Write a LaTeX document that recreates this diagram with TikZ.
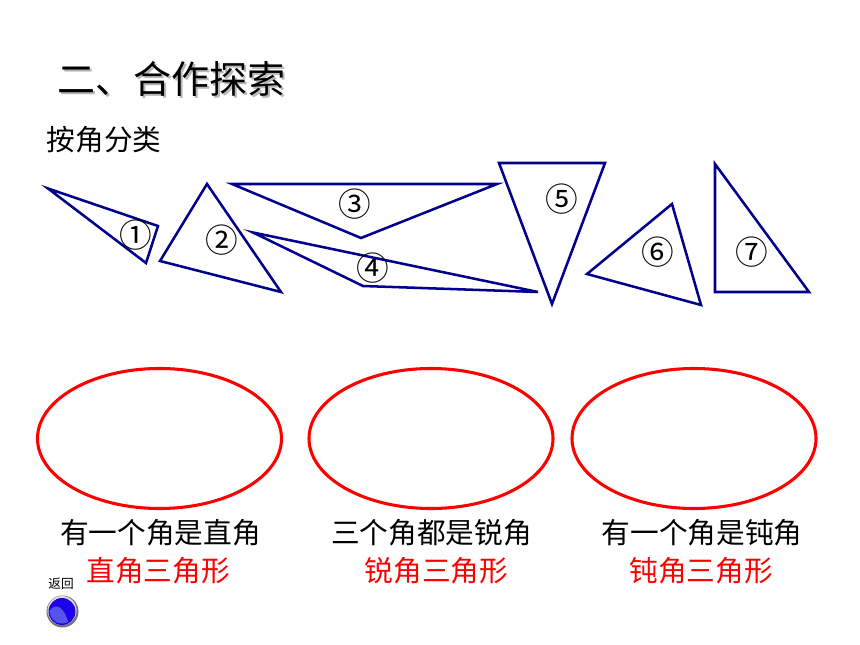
\documentclass[tikz,border=0pt]{standalone}
\usepackage{fontspec}
\setmainfont{DejaVu Sans}
\newfontfamily\cjk{Noto Sans CJK SC}
\definecolor{triblue}{RGB}{0,0,140}
\definecolor{ovalred}{RGB}{255,0,0}
\definecolor{btnblue}{RGB}{30,0,235}
\definecolor{btnhigh}{RGB}{85,85,235}
\tikzset{
 tri/.style={draw=triblue,line width=1.9pt,line join=miter},
 oval/.style={draw=ovalred,line width=2.3pt},
 num/.style={font=\cjk\fontsize{24.5}{24.5}\selectfont,inner sep=0pt,text=black},
 title/.style={font=\cjk\fontsize{28.5}{30}\selectfont,inner sep=0pt,anchor=west},
 body/.style={font=\cjk\fontsize{21.5}{24}\selectfont,inner sep=0pt},
 redt/.style={body,text=ovalred},
}
\begin{document}
\begin{tikzpicture}[x=0.75pt,y=-0.75pt]
\useasboundingbox (0,0) rectangle (860,645);
\fill[white] (0,0) rectangle (860,645);
% title
\node[title,text=black!28] (titleshadow) at (59,81) {二、合作探索};
\node[title] (title) at (57,79) {二、合作探索};
\node[body,anchor=west] (sub) at (46.5,139.5) {按角分类};
% triangles
\draw[tri] (48,188.5) -- (158,226) -- (146,263) -- cycle;
\draw[tri] (207,184) -- (281,292) -- (160,261) -- cycle;
\draw[tri] (232,184) -- (497,184) -- (361,238) -- cycle;
\draw[tri] (253,232.5) -- (538,292) -- (363,286) -- cycle;
\draw[tri] (499,163) -- (605,163) -- (552,304) -- cycle;
\draw[tri] (672,204) -- (701,305) -- (587,274) -- cycle;
\draw[tri] (715,164) -- (809,292) -- (715,292) -- cycle;
\node[num] (n1) at (135.5,235.5) {①};
\node[num] (n2) at (221.5,240.5) {②};
\node[num] (n3) at (354.5,204.5) {③};
\node[num] (n4) at (372.5,268.5) {④};
\node[num] (n5) at (561.5,199.5) {⑤};
\node[num] (n6) at (658,252.5) {⑥};
\node[num] (n7) at (752,252.5) {⑦};
% ovals
\draw[oval] (159.5,438.5) ellipse [x radius=122,y radius=70];
\draw[oval] (431,438.5) ellipse [x radius=122,y radius=70];
\draw[oval] (694,438.5) ellipse [x radius=122,y radius=70];
% labels
\node[body] (a1) at (160.5,533) {有一个角是直角};
\node[body] (a2) at (431.5,533) {三个角都是锐角};
\node[body] (a3) at (702,533) {有一个角是钝角};
\node[redt] (b1) at (158,571) {直角三角形};
\node[redt] (b2) at (436.5,571) {锐角三角形};
\node[redt] (b3) at (701,571) {钝角三角形};
% return button
\node[font=\cjk\fontsize{9.5}{10}\selectfont,inner sep=0pt] (ret) at (61,584) {返回};
\fill[black!55] (62.5,611.5) circle [radius=16];
\fill[black!12] (62,610.5) circle [radius=14.5];
\fill[btnblue] (62,611.5) circle [radius=13.5];
\fill[btnhigh] (49.5,611) arc [start angle=180,end angle=60,radius=12.5] .. controls (62,602) and (53,605) .. cycle;
\end{tikzpicture}
\end{document}
